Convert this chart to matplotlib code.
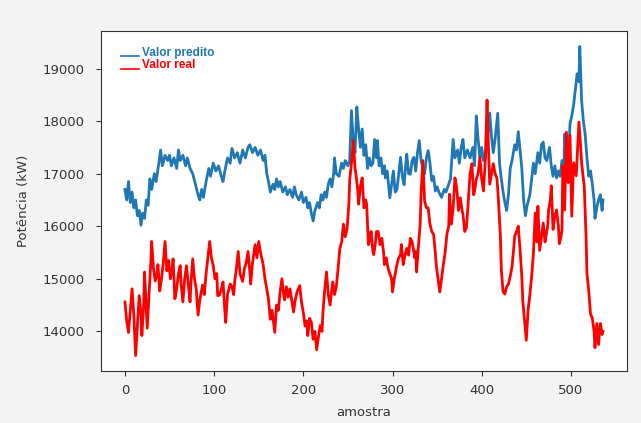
import numpy as np
import matplotlib
matplotlib.use("Agg")
import matplotlib.pyplot as plt
from matplotlib.legend_handler import HandlerLine2D

# Valor predito (blue): sample index -> power (kW)
pred_x = [0, 2, 4, 6, 8, 10, 12, 14, 16, 18, 20, 22, 24, 26, 28, 30, 33, 35, 38, 40,
          42, 45, 48, 50, 52, 55, 58, 60, 62, 65, 68, 70, 73, 76, 79, 82, 84, 86, 88, 91,
          94, 96, 99, 102, 105, 108, 110, 112, 115, 118, 120, 123, 126, 129, 132, 135, 138, 140, 143, 146,
          149, 152, 155, 157, 159, 161, 163, 166, 168, 170, 172, 174, 177, 180, 182, 185, 188, 190, 192, 195,
          198, 200, 203, 205, 207, 209, 211, 213, 216, 218, 220, 222, 224, 226, 228, 230, 232, 234, 235, 237,
          240, 243, 245, 247, 250, 252, 254, 256, 258, 260, 262, 264, 266, 268, 270, 272, 274, 276, 278, 280,
          282, 283, 285, 287, 289, 291, 292, 294, 296, 297, 299, 301, 303, 305, 307, 309, 311, 313, 315, 316,
          318, 320, 322, 324, 326, 328, 330, 332, 334, 336, 338, 340, 342, 344, 346, 348, 350, 352, 355, 358,
          360, 362, 365, 368, 370, 373, 375, 377, 379,
          381, 384, 387, 390, 392, 394, 396, 398, 400, 402, 404, 406, 409, 411, 413, 415, 418, 420, 422, 424,
          426, 428, 430, 432, 434, 437, 439, 441, 443, 445, 447, 449, 451, 454, 456, 458, 460, 463, 465, 467,
          469, 471, 473, 476, 478, 480, 482, 484, 486, 488, 490, 492, 493, 495, 497, 499, 501, 503, 505, 507,
          509, 510, 512, 514, 516, 518, 520, 522, 524, 526, 527, 529, 531, 533, 535, 536]
pred_y = [16700, 16500, 16850, 16450, 16650, 16350, 16500, 16200, 16300, 16020, 16250, 16150, 16500, 16400, 16900, 16700, 17000, 16850, 17200, 17450,
          17150, 17350, 17250, 17350, 17150, 17300, 17100, 17450, 17250, 17350, 17150, 17300, 17100, 17000, 16800, 16600, 16500, 16700, 16550, 16850,
          17100, 16950, 17200, 17050, 17150, 16950, 16850, 17050, 17300, 17200, 17480, 17300, 17400, 17200, 17450, 17300, 17500, 17550, 17400, 17500,
          17350, 17450, 17250, 17350, 17000, 16850, 16650, 16800, 16700, 16900, 16750, 16850, 16650, 16750, 16600, 16700, 16550, 16750, 16600, 16500,
          16650, 16450, 16550, 16350, 16450, 16250, 16100, 16300, 16450, 16350, 16600, 16500, 16650, 16550, 16800, 16900, 16750, 17000, 17300, 17000,
          16950, 17200, 17100, 17250, 17150, 17250, 18200, 17600, 17400, 18270, 17850, 17500, 17850, 17350, 17550, 17100, 17300, 17150, 17200, 17650,
          17300, 17630, 17150, 17300, 17000, 17150, 16920, 17050, 16700, 16540, 16800, 17050, 16650, 16700, 17000, 17310, 16950, 16790, 17200, 17370,
          17000, 16990, 17250, 17310, 17050, 17400, 17630, 17250, 17120, 17000, 17300, 17440, 17200, 16870, 16950, 16670, 16750, 16650, 16550, 16700,
          16650, 16750, 16900, 17650, 17300, 17450, 17200, 17500, 17650,
          17300, 17450, 17300, 17500, 17150, 18100, 17650, 17300, 17500, 17250, 17300, 17600, 18150, 17700, 17400, 17650, 18150, 17200, 16900, 16650,
          16450, 16300, 16600, 17100, 17250, 17550, 17450, 17800, 17450, 17100, 16500, 16200, 16400, 16600, 16900, 17200, 17000, 17400, 17200, 17550,
          17600, 17300, 17250, 17500, 17150, 16950, 17150, 16920, 17050, 16950, 17250, 17000, 17750, 17300, 17100, 17950, 18100, 18300, 18600, 18900,
          18750, 19420, 18400, 18000, 17750, 17300, 16950, 17050, 16800, 16500, 16150, 16350, 16500, 16600, 16300, 16500]

# Valor real (red)
real_x = [0, 2, 4, 6, 8, 10, 12, 14, 16, 18, 19, 21, 22, 24, 25, 27, 29, 30, 32, 34,
          36, 37, 39, 41, 43, 45, 47, 49, 51, 53, 54, 56, 58, 60, 62, 63, 65, 67, 69, 71,
          73, 74, 76, 78, 80, 82, 84, 87, 89, 91, 93, 95, 97, 99, 101, 103, 104, 106, 108, 110,
          112, 113, 115, 118, 120, 122, 123, 125, 127, 129, 132, 134, 136, 138, 140, 141, 143, 146, 148, 150,
          152, 155, 157, 159, 161, 163, 165, 168, 170, 172, 174, 176, 178, 179, 181, 183, 185, 187, 189, 191,
          193, 196, 198, 200, 202, 204, 205, 207, 209, 211, 213, 215, 217, 219, 221, 222, 224, 226, 228, 230,
          232, 233, 235, 237, 239, 241, 243, 245, 247, 249, 251, 252, 254, 256, 258, 259, 261, 262, 264, 266,
          268, 270, 271, 273, 275, 276, 278, 279, 281, 282, 284, 286, 288, 290, 291, 293, 295, 297, 299, 300,
          302, 305, 307, 309, 310, 312, 314, 316, 318, 320, 322, 323, 325, 326, 327, 329, 331, 332, 334, 336,
          338, 340, 342, 344, 346, 348, 349, 351, 353, 355, 357, 359, 361, 363, 364, 366, 368, 370, 372, 374,
          376, 378, 379, 381, 383, 385, 387, 389, 391, 392, 394, 396, 398, 400, 402, 404, 406, 407, 408, 409,
          411, 413, 415, 417, 418, 419, 421, 422, 424, 426, 428, 430, 432, 434, 436, 437, 439, 441, 443, 445,
          446, 448, 450, 452, 454, 456, 458, 460, 462, 463, 465, 467, 469, 471, 472, 474, 475, 477, 478, 480,
          482, 484, 486, 487, 489, 490, 491, 493, 495, 497, 499, 501, 503, 506, 509, 511, 512, 514, 515, 517,
          518, 520, 522, 524, 526, 527, 529, 531, 533, 535, 536]
real_y = [14560, 14200, 13980, 14400, 14810, 14300, 13540, 14100, 14680, 14350, 13920, 14500, 15130, 14400, 14060, 14700, 15300, 15710, 15200, 14960,
          15100, 15270, 14770, 15000, 15300, 15710, 15150, 15350, 15000, 15200, 15380, 14620, 14800, 15100, 15250, 14900, 14560, 15000, 15250, 14900,
          14560, 14900, 15380, 15000, 14800, 14310, 14600, 14880, 14700, 15100, 15400, 15710, 15400, 15250, 15000, 15100, 14680, 14690, 14800, 14940,
          14400, 14170, 14700, 14900, 14850, 14700, 14940, 15200, 15520, 15100, 14950, 15200, 15300, 15520, 15150, 14900, 15300, 15650, 15400, 15710,
          15500, 15270, 15000, 14810, 14600, 14230, 14400, 13980, 14500, 14400, 14750, 15000, 14700, 14600, 14850, 14650, 14810, 14600, 14370, 14600,
          14750, 14870, 14550, 14360, 14100, 14200, 13920, 14250, 14170, 13850, 14000, 13650, 13900, 14110, 14000, 14360, 14800, 15130, 14700, 14500,
          14800, 14940, 14700, 14850, 15200, 15580, 15700, 16040, 15800, 15940, 16400, 16870, 17200, 17630, 17100, 16990, 16700, 16420, 16750, 16920,
          16350, 16500, 16420, 15650, 15770, 15900, 15520, 15460, 15710, 15900, 15900, 15650, 15770, 15500, 15270, 15400, 15200, 15100, 15000, 14750,
          15000, 15270, 15400, 15460, 15650, 15270, 15450, 15580, 15450, 15770, 15700, 15600, 15400, 15520, 15130, 15600, 16040, 16600, 17250, 16480,
          16350, 16350, 16040, 15900, 15850, 15500, 15270, 15000, 14750, 15000, 15270, 15500, 15850, 16000, 16610, 16040, 16350, 16920, 16730, 16300,
          16540, 16300, 16230, 15900, 15980, 16500, 17000, 17190, 16600, 16670, 16900, 17000, 17310, 16900, 16670, 17250, 18400, 17800, 17300, 16800,
          17000, 17190, 17000, 16920, 16700, 16420, 15800, 15170, 14750, 14710, 14850, 14900, 15050, 15230, 15600, 15810, 15900, 16000, 15560, 15040,
          14600, 14210, 13830, 14400, 14700, 15040, 15480, 16250, 15700, 16380, 15540, 15800, 16060, 15700, 15810, 16000, 16310, 16500, 16770, 15940,
          16200, 16310, 16000, 15670, 15800, 15940, 17150, 16310, 17790, 16830, 17730, 16190, 17210, 16960, 17980, 17500, 17210, 16900, 16770, 15800,
          15100, 14780, 14330, 14250, 14000, 13690, 14150, 13750, 14150, 13940, 14000]

BLUE = "#1f77b4"
RED = "#ff0000"


class BaselineLine(HandlerLine2D):
    # draw the legend line at the text baseline, like an underscore
    def create_artists(self, legend, orig_handle, xdescent, ydescent,
                       width, height, fontsize, trans):
        arts = super().create_artists(legend, orig_handle, xdescent, ydescent,
                                      width, height, fontsize, trans)
        for a in arts:
            a.set_ydata(np.full(len(a.get_xdata()), -0.05 * height))
        return arts


fig = plt.figure(figsize=(6.41, 4.23), dpi=100)
fig.patch.set_facecolor("#f3f3f3")
ax = fig.add_axes([0.1576, 0.1229, 0.8204, 0.8038])
ax.set_facecolor("white")

ax.plot(pred_x, pred_y, color=BLUE, lw=2.0, label="Valor predito")
ax.plot(real_x, real_y, color=RED, lw=2.0, label="Valor real")

ax.set_yticks([14000, 15000, 16000, 17000, 18000, 19000])
ax.set_xticks([0, 100, 200, 300, 400, 500])
ax.tick_params(labelsize=9.5, colors="#333333")
ax.tick_params(axis="y", pad=8)
ax.tick_params(axis="x", pad=6)
ax.set_ylabel("Potência (kW)", fontsize=9.5, color="#333333", labelpad=9)
ax.set_xlabel("amostra", fontsize=9.5, color="#333333", labelpad=6)
for sp in ax.spines.values():
    sp.set_color("#333333")

leg = ax.legend(loc="upper left", bbox_to_anchor=(0.018, 0.985), frameon=False,
                handlelength=1.5, handletextpad=0.3, labelspacing=0.05,
                handler_map={plt.Line2D: BaselineLine()},
                prop={"family": "Liberation Sans", "weight": "bold", "size": 8.5})
for txt, c in zip(leg.get_texts(), [BLUE, RED]):
    txt.set_color(c)
for ln in leg.get_lines():
    ln.set_linewidth(1.2)

fig.savefig("out.png", dpi=100, facecolor=fig.get_facecolor())
